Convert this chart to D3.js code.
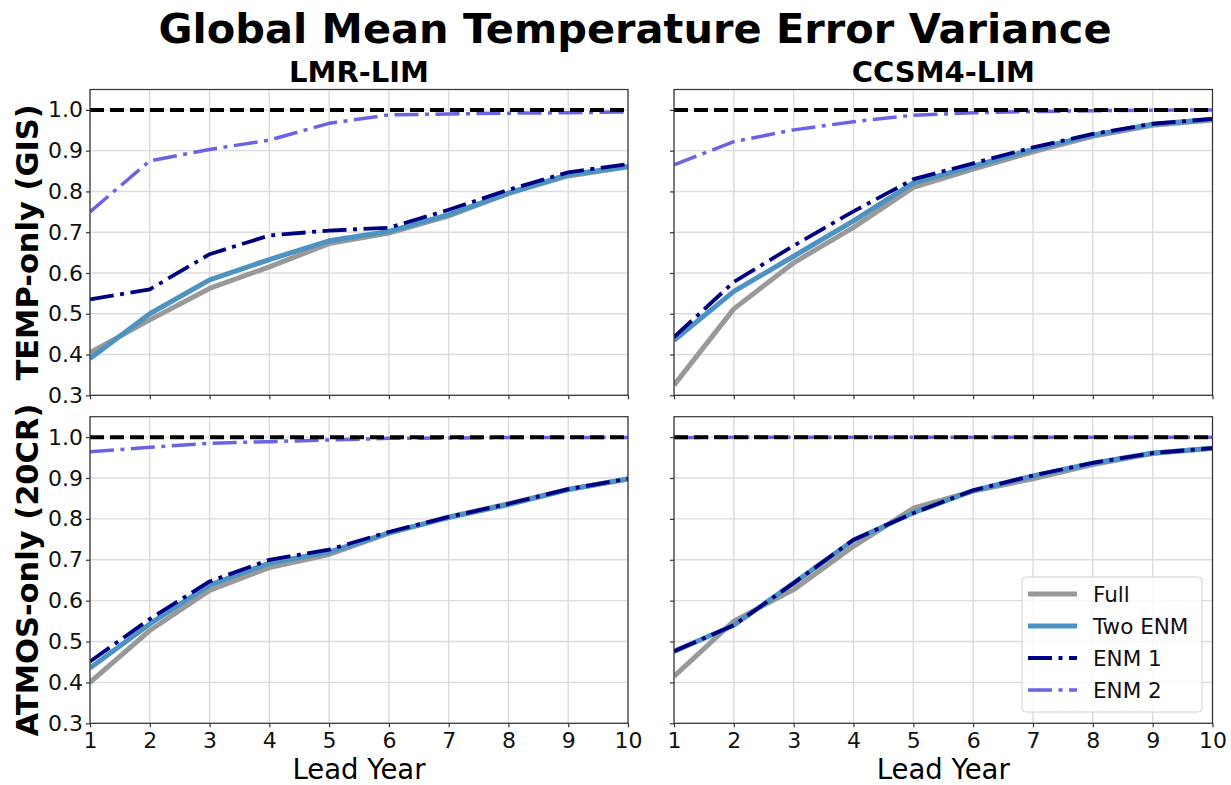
<!DOCTYPE html>
<html>
<head>
<meta charset="utf-8">
<script src="https://cdn.jsdelivr.net/npm/d3@7"></script>
<style>
  html, body { margin: 0; padding: 0; background: #fff; }
  svg { display: block; font-family: "DejaVu Sans", sans-serif; }
</style>
</head>
<body>
<svg id="chart" width="1231" height="785"></svg>
<script>
// ---------------- DATA ----------------
const leadYears = [1, 2, 3, 4, 5, 6, 7, 8, 9, 10];
const yTicks = [0.3, 0.4, 0.5, 0.6, 0.7, 0.8, 0.9, 1.0];
const columnTitles = ["LMR-LIM", "CCSM4-LIM"];
const rowTitles = ["TEMP-only (GIS)", "ATMOS-only (20CR)"];
const seriesNames = ["Full", "Two ENM", "ENM 1", "ENM 2"];

// LMR-LIM, TEMP-only (GIS)
const lmrTempFull  = [0.405, 0.485, 0.562, 0.615, 0.672, 0.698, 0.740, 0.795, 0.838, 0.860];
const lmrTempTwo   = [0.390, 0.500, 0.583, 0.633, 0.679, 0.702, 0.743, 0.796, 0.841, 0.861];
const lmrTempEnm1  = [0.535, 0.560, 0.646, 0.692, 0.704, 0.711, 0.755, 0.804, 0.847, 0.867];
const lmrTempEnm2  = [0.750, 0.875, 0.903, 0.926, 0.967, 0.988, 0.990, 0.992, 0.993, 0.995];
// CCSM4-LIM, TEMP-only (GIS)
const ccsmTempFull = [0.325, 0.512, 0.625, 0.712, 0.810, 0.855, 0.897, 0.935, 0.962, 0.975];
const ccsmTempTwo  = [0.435, 0.555, 0.641, 0.728, 0.821, 0.862, 0.903, 0.938, 0.965, 0.977];
const ccsmTempEnm1 = [0.443, 0.578, 0.667, 0.751, 0.830, 0.869, 0.908, 0.941, 0.966, 0.978];
const ccsmTempEnm2 = [0.865, 0.922, 0.951, 0.971, 0.987, 0.993, 0.996, 0.998, 0.999, 1.000];
// LMR-LIM, ATMOS-only (20CR)
const lmrAtmosFull = [0.400, 0.527, 0.625, 0.681, 0.713, 0.765, 0.805, 0.837, 0.872, 0.898];
const lmrAtmosTwo  = [0.435, 0.543, 0.638, 0.692, 0.719, 0.766, 0.803, 0.835, 0.872, 0.898];
const lmrAtmosEnm1 = [0.451, 0.555, 0.647, 0.700, 0.725, 0.768, 0.805, 0.837, 0.873, 0.898];
const lmrAtmosEnm2 = [0.964, 0.975, 0.985, 0.989, 0.993, 0.997, 0.998, 0.999, 0.999, 0.999];
// CCSM4-LIM, ATMOS-only (20CR)
const ccsmAtmosFull = [0.415, 0.550, 0.627, 0.733, 0.826, 0.868, 0.898, 0.933, 0.960, 0.973];
const ccsmAtmosTwo  = [0.476, 0.540, 0.643, 0.748, 0.815, 0.869, 0.905, 0.936, 0.961, 0.973];
const ccsmAtmosEnm1 = [0.476, 0.540, 0.643, 0.749, 0.814, 0.870, 0.906, 0.937, 0.961, 0.973];
const ccsmAtmosEnm2 = [0.999, 1.000, 1.000, 1.000, 1.000, 1.000, 1.000, 1.000, 1.000, 1.000];
const referenceLevel = 1.0;

// ---------------- STYLE ----------------
const styles = [
  { color: "#999999", width: 5,   dash: null },
  { color: "#4c92c3", width: 5,   dash: null },
  { color: "#000080", width: 3.8, dash: "24,6.5,4,6.5" },
  { color: "#6b63e3", width: 3.5, dash: "24,6.5,4,6.5" }
];

const panels = [
  { row: 0, col: 0, series: [lmrTempFull, lmrTempTwo, lmrTempEnm1, lmrTempEnm2] },
  { row: 0, col: 1, series: [ccsmTempFull, ccsmTempTwo, ccsmTempEnm1, ccsmTempEnm2] },
  { row: 1, col: 0, series: [lmrAtmosFull, lmrAtmosTwo, lmrAtmosEnm1, lmrAtmosEnm2] },
  { row: 1, col: 1, series: [ccsmAtmosFull, ccsmAtmosTwo, ccsmAtmosEnm1, ccsmAtmosEnm2] }
];

const colX = [[90, 628], [674, 1212.5]];
const rowY = [[89.5, 395.3], [416.7, 723.3]];

const svg = d3.select("#chart");
const font = "DejaVu Sans";

// Title
svg.append("text")
  .attr("x", 635).attr("y", 43)
  .attr("text-anchor", "middle")
  .attr("font-size", 41.5).attr("font-weight", "bold")
  .attr("fill", "#000")
  .text("Global Mean Temperature Error Variance");

panels.forEach((p, i) => {
  const [x0, x1] = colX[p.col];
  const [y0, y1] = rowY[p.row];
  const x = d3.scaleLinear().domain([1, 10]).range([x0, x1]);
  const y = d3.scaleLinear().domain([0.3, 1.05]).range([y1, y0]);
  const g = svg.append("g");

  const clipId = "clip" + i;
  svg.append("clipPath").attr("id", clipId)
    .append("rect").attr("x", x0).attr("y", y0).attr("width", x1 - x0).attr("height", y1 - y0);

  // grid
  g.append("g").selectAll("line").data(leadYears).join("line")
    .attr("x1", d => x(d)).attr("x2", d => x(d))
    .attr("y1", y0).attr("y2", y1)
    .attr("stroke", "#dcdcdc").attr("stroke-width", 1.4);
  g.append("g").selectAll("line").data(yTicks).join("line")
    .attr("x1", x0).attr("x2", x1)
    .attr("y1", d => y(d)).attr("y2", d => y(d))
    .attr("stroke", "#dcdcdc").attr("stroke-width", 1.4);

  // series
  const line = d3.line().x((d, j) => x(leadYears[j])).y(d => y(d));
  const lg = g.append("g").attr("clip-path", `url(#${clipId})`);
  p.series.forEach((vals, k) => {
    const s = styles[k];
    lg.append("path").datum(vals)
      .attr("d", line)
      .attr("fill", "none")
      .attr("stroke", s.color)
      .attr("stroke-width", s.width)
      .attr("stroke-dasharray", s.dash)
      .attr("stroke-linejoin", "round");
  });
  lg.append("path").datum(leadYears.map(() => referenceLevel))
    .attr("d", line)
    .attr("fill", "none")
    .attr("stroke", "#000")
    .attr("stroke-width", 4)
    .attr("stroke-dasharray", "14,6");

  // axes
  const showXLabels = p.row === 1;
  const showYLabels = p.col === 0;
  const xAxis = d3.axisBottom(x).tickValues(leadYears).tickSize(4).tickPadding(5)
    .tickFormat(showXLabels ? d3.format("d") : () => "");
  const yAxis = d3.axisLeft(y).tickValues(yTicks).tickSize(4).tickPadding(3)
    .tickFormat(showYLabels ? d3.format(".1f") : () => "");
  const xa = svg.append("g").attr("transform", `translate(0,${y1})`).call(xAxis);
  const ya = svg.append("g").attr("transform", `translate(${x0},0)`).call(yAxis);
  [xa, ya].forEach(a => {
    a.select(".domain").remove();
    a.selectAll(".tick line").attr("stroke", "#333").attr("stroke-width", 1.2);
    a.selectAll(".tick text").attr("font-family", font).attr("font-size", 22).attr("fill", "#111");
  });
  xa.selectAll(".tick text").attr("dy", "0.71em");

  svg.append("rect").attr("x", x0).attr("y", y0).attr("width", x1 - x0).attr("height", y1 - y0)
    .attr("fill", "none").attr("stroke", "#333").attr("stroke-width", 1.2);

  if (p.row === 0) {
    svg.append("text").attr("x", (x0 + x1) / 2).attr("y", 81.5)
      .attr("text-anchor", "middle").attr("font-size", 29).attr("font-weight", "bold")
      .text(columnTitles[p.col]);
  }
  if (p.col === 0) {
    svg.append("text")
      .attr("transform", `translate(38,${(y0 + y1) / 2}) rotate(-90)`)
      .attr("text-anchor", "middle").attr("font-size", 30.5).attr("font-weight", "bold")
      .text(rowTitles[p.row]);
  }
  if (p.row === 1) {
    svg.append("text").attr("x", (x0 + x1) / 2).attr("y", 779)
      .attr("text-anchor", "middle").attr("font-size", 27.5)
      .text("Lead Year");
  }

  if (p.row === 1 && p.col === 1) {
    const leg = svg.append("g");
    leg.append("rect").attr("x", 1022).attr("y", 577).attr("width", 180).attr("height", 135)
      .attr("rx", 4).attr("fill", "#fff").attr("fill-opacity", 0.8)
      .attr("stroke", "#d0d0d0").attr("stroke-width", 1);
    seriesNames.forEach((name, k) => {
      const ly = 594 + k * 32;
      const s = styles[k];
      leg.append("line").attr("x1", 1028).attr("x2", 1077).attr("y1", ly).attr("y2", ly)
        .attr("stroke", s.color).attr("stroke-width", s.width)
        .attr("stroke-dasharray", s.dash);
      leg.append("text").attr("x", 1093).attr("y", ly).attr("dy", "0.35em")
        .attr("font-size", 21.5).attr("fill", "#111").text(name);
    });
  }
});
</script>
</body>
</html>
